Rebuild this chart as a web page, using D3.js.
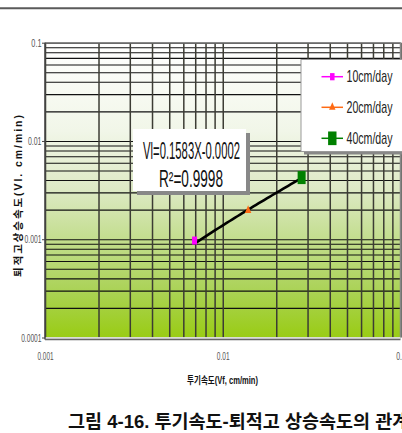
<!DOCTYPE html>
<html>
<head>
<meta charset="utf-8">
<script src="https://cdn.jsdelivr.net/npm/d3@7"></script>
<style>
  html, body { margin: 0; padding: 0; background: #fff; overflow: hidden; }
  svg { display: block; }
  text { font-family: "Liberation Sans", Arial, "Noto Sans CJK KR", sans-serif; }
</style>
</head>
<body>
<svg id="chart" width="402" height="433"></svg>
<script>
// Infiltration velocity (Vf) vs. deposit-height rise velocity (Vl)
const seriesNames = ["10cm/day", "20cm/day", "40cm/day"];
const seriesColors = ["#ff00ff", "#ff6a13", "#008000"];
const vfValues = [0.00694, 0.01389, 0.02778];   // cm/min
const vlValues = [0.00097, 0.00196, 0.00424];   // cm/min
const trendSlope = 0.1583;
const trendIntercept = -0.0002;
const rSquared = 0.9998;

const xTickValues = [0.001, 0.01, 0.1];
const xTickLabels = ["0.001", "0.01", "0.1"];
const yTickValues = [0.0001, 0.001, 0.01, 0.1];
const yTickLabels = ["0.0001", "0.001", "0.01", "0.1"];

const xTitle = "투기속도(Vf, cm/min)";
const yTitle = "퇴적고상승속도(Vl. cm/min)";
const caption = "그림 4-16. 투기속도-퇴적고 상승속도의 관계";

const svg = d3.select("#chart");
const plotL = 45, plotR = 400.5, plotT = 42.7, plotB = 337.5;

const x = d3.scaleLog().domain([0.001, 0.1]).range([plotL, plotR]);
const y = d3.scaleLog().domain([0.0001, 0.1]).range([plotB, plotT]);

// squeeze a text horizontally so that it spans w pixels
function squeeze(sel, w) {
  sel.each(function () {
    const t = d3.select(this);
    const natural = this.getComputedTextLength();
    const s = w / natural;
    const tx = +t.attr("x") || 0, ty = +t.attr("y") || 0;
    const base = t.attr("transform") || "";
    t.attr("x", 0).attr("y", 0)
      .attr("transform", `${base} translate(${tx},${ty}) scale(${s},1)`);
  });
  return sel;
}

// page rule
svg.append("line").attr("x1", 0).attr("x2", 402).attr("y1", 8.3).attr("y2", 8.3)
  .attr("stroke", "#5a5a5a").attr("stroke-width", 2);

// plot background gradient
const defs = svg.append("defs");
const grad = defs.append("linearGradient").attr("id", "bg")
  .attr("x1", 0).attr("y1", 0).attr("x2", 0).attr("y2", 1);
[[0, "#ffffff"], [0.3, "#f1f6e8"], [0.5, "#dde9c4"], [0.66, "#c4de90"],
 [0.83, "#acd35a"], [1, "#99cc14"]].forEach(([o, c]) =>
  grad.append("stop").attr("offset", o).attr("stop-color", c));

svg.append("rect").attr("x", plotL).attr("y", plotT)
  .attr("width", plotR - plotL).attr("height", plotB - plotT)
  .attr("fill", "url(#bg)");

// log minor values within each decade
function logGrid(lo, hi) {
  const out = [];
  for (let p = Math.round(Math.log10(lo)); p < Math.round(Math.log10(hi)); p++) {
    for (let k = 1; k <= 9; k++) out.push(k * Math.pow(10, p));
  }
  out.push(hi);
  return out;
}

// horizontal gridlines
svg.append("g").attr("transform", `translate(${plotL},0)`)
  .call(d3.axisLeft(y).tickValues(logGrid(0.0001, 0.1)).tickFormat("")
    .tickSize(-(plotR - plotL)).tickSizeOuter(0))
  .call(g => g.select(".domain").remove())
  .call(g => g.selectAll(".tick line").attr("stroke", "#111").attr("stroke-width", 1.1));

// vertical gridlines
svg.append("g").attr("transform", `translate(0,${plotB})`)
  .call(d3.axisBottom(x).tickValues(logGrid(0.001, 0.1)).tickFormat("")
    .tickSize(-(plotB - plotT)).tickSizeOuter(0))
  .call(g => g.select(".domain").remove())
  .call(g => g.selectAll(".tick line").attr("stroke", "#3c3c34").attr("stroke-width", 1.5));

// plot frame
svg.append("line").attr("x1", plotL).attr("x2", plotR).attr("y1", plotT).attr("y2", plotT)
  .attr("stroke", "#888").attr("stroke-width", 1.5);
svg.append("line").attr("x1", plotR).attr("x2", plotR).attr("y1", plotT).attr("y2", plotB)
  .attr("stroke", "#888").attr("stroke-width", 1.5);
svg.append("line").attr("x1", plotL).attr("x2", plotR).attr("y1", plotB + 0.5).attr("y2", plotB + 0.5)
  .attr("stroke", "#fff").attr("stroke-width", 1.5);

// y axis
const yAxis = svg.append("g").attr("transform", `translate(${plotL},0)`)
  .call(d3.axisLeft(y).tickValues(yTickValues)
    .tickFormat((d, i) => yTickLabels[i]).tickSize(3).tickSizeOuter(0))
  .call(g => g.select(".domain").attr("stroke", "#444").attr("stroke-width", 1.5)
    .attr("d", `M0,${plotT}V${plotB + 2}`));
yAxis.selectAll(".tick line").attr("stroke", "#444");
yAxis.selectAll(".tick text").attr("fill", "#555").attr("font-size", 10)
  .attr("x", -3.5).attr("y", 0).attr("dy", "0.35em")
  .each(function (d, i) { squeeze(d3.select(this), yTickLabels[i].length * 3.4); });

// x axis
const xAxis = svg.append("g").attr("transform", `translate(0,${plotB + 2})`)
  .call(d3.axisBottom(x).tickValues(xTickValues)
    .tickFormat((d, i) => xTickLabels[i]).tickSize(0).tickSizeOuter(0))
  .call(g => g.select(".domain").attr("stroke", "#666").attr("stroke-width", 1.5)
    .attr("d", `M${plotL},0H${plotR}`));
xAxis.selectAll(".tick text").attr("fill", "#555").attr("font-size", 10)
  .attr("x", 0).attr("y", 17).attr("dy", "0.35em")
  .each(function (d, i) { squeeze(d3.select(this), xTickLabels[i].length * 3.2); });

// axis titles
squeeze(svg.append("text").attr("x", 222.5).attr("y", 383.5).attr("text-anchor", "middle")
  .attr("font-size", 10).attr("font-weight", "bold").attr("fill", "#111")
  .text(xTitle), 71);

squeeze(svg.append("text").attr("transform", "translate(21.5,195) rotate(-90)")
  .attr("text-anchor", "middle").attr("font-size", 10.5).attr("font-weight", "bold")
  .attr("fill", "#111").attr("letter-spacing", 2).text(yTitle), 164);

// trendline from the fitted equation
const trendX = d3.range(0, 41).map(i =>
  Math.pow(10, Math.log10(vfValues[0]) + i / 40 * (Math.log10(vfValues[2]) - Math.log10(vfValues[0]))));
svg.append("path")
  .attr("d", d3.line().x(d => x(d)).y(d => y(trendSlope * d + trendIntercept))(trendX))
  .attr("fill", "none").attr("stroke", "#000").attr("stroke-width", 2.6);

// markers
function marker(g, i, cx, cy, scale) {
  if (i === 0) {
    g.append("rect").attr("x", cx - 2.5 * scale).attr("y", cy - 4 * scale)
      .attr("width", 5 * scale).attr("height", 8 * scale).attr("fill", seriesColors[0]);
  } else if (i === 1) {
    g.append("path").attr("transform", `translate(${cx},${cy}) scale(0.9,1.25)`)
      .attr("d", d3.symbol(d3.symbolTriangle, 22)()).attr("fill", seriesColors[1]);
  } else {
    g.append("rect").attr("x", cx - 4 * scale).attr("y", cy - 6.5 * scale)
      .attr("width", 8 * scale).attr("height", 13 * scale).attr("fill", seriesColors[2]);
  }
}
const pts = svg.append("g");
vfValues.forEach((v, i) => marker(pts, i, x(v), y(vlValues[i]), 1));

// equation box
const eq = svg.append("g");
eq.append("rect").attr("x", 137).attr("y", 133).attr("width", 113).attr("height", 62).attr("fill", "#888");
eq.append("rect").attr("x", 133).attr("y", 129).attr("width", 113).attr("height", 62).attr("fill", "#fff");
squeeze(eq.append("text").attr("x", 191.5).attr("y", 159).attr("text-anchor", "middle")
  .attr("font-size", 23).attr("fill", "#111")
  .text(`Vl=${trendSlope}X${trendIntercept < 0 ? "-" : "+"}${Math.abs(trendIntercept).toFixed(4)}`), 97);
squeeze(eq.append("text").attr("x", 191).attr("y", 186.5).attr("text-anchor", "middle")
  .attr("font-size", 23).attr("fill", "#111")
  .text(`R²=${rSquared}`), 64);

// legend
const lg = svg.append("g");
lg.append("rect").attr("x", 304).attr("y", 62.5).attr("width", 110).attr("height", 92).attr("fill", "#888");
lg.append("rect").attr("x", 301).attr("y", 59.5).attr("width", 110).attr("height", 92)
  .attr("fill", "#fff").attr("stroke", "#999").attr("stroke-width", 1);
const legendY = [76.7, 107.3, 138.3];
seriesNames.forEach((name, i) => {
  lg.append("line").attr("x1", 321.5).attr("x2", 343).attr("y1", legendY[i]).attr("y2", legendY[i])
    .attr("stroke", seriesColors[i]).attr("stroke-width", 1.5);
  marker(lg, i, 332.3, legendY[i], i === 2 ? 1.05 : 0.9);
  squeeze(lg.append("text").attr("x", 346.5).attr("y", legendY[i] + 5.5)
    .attr("font-size", 16).attr("fill", "#222").text(name), 46);
});

// caption
svg.append("text").attr("x", 68).attr("y", 428).attr("font-size", 18.5)
  .attr("font-family", "'Noto Sans CJK KR', sans-serif").attr("font-weight", 700)
  .attr("fill", "#111").text(caption);
</script>
</body>
</html>
